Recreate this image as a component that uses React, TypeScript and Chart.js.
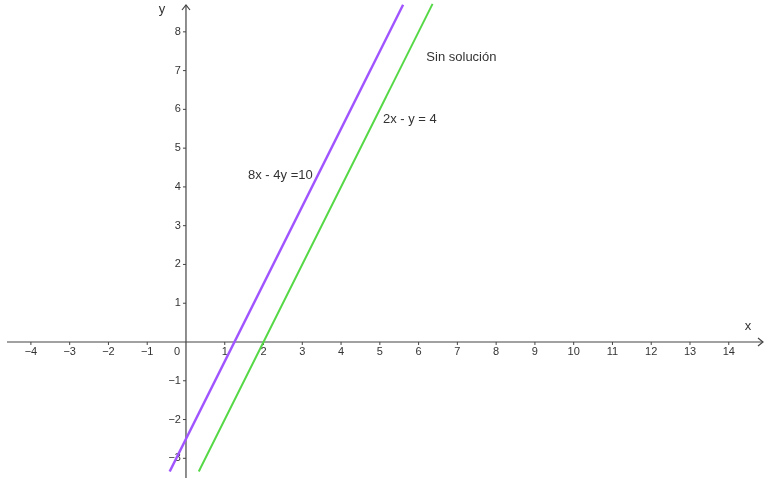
import React, { useEffect, useRef } from "react";
import { Chart, registerables } from "chart.js";

Chart.register(...registerables);

// Line endpoints
const purpleX = [-0.42, 5.6];
const purpleY = [-3.34, 8.7];
const greenX = [0.33, 6.36];
const greenY = [-3.34, 8.72];

const xTicks = [-4, -3, -2, -1, 1, 2, 3, 4, 5, 6, 7, 8, 9, 10, 11, 12, 13, 14];
const yTicks = [-3, -2, -1, 1, 2, 3, 4, 5, 6, 7, 8];

const annotations = [
  { text: "8x - 4y =10", x: 1.6, y: 4.3 },
  { text: "Sin solución", x: 6.2, y: 7.34 },
  { text: "2x - y = 4", x: 5.08, y: 5.75 },
];

const X_MIN = -4.797;
const X_MAX = 15.012;
const Y_MIN = -3.508;
const Y_MAX = 8.821;

const fmt = (v: number) => (v < 0 ? "\u2212" + Math.abs(v) : String(v));

const axesPlugin = {
  id: "geoAxes",
  beforeDatasetsDraw(chart: any) {
    const ctx = chart.ctx;
    const xs = chart.scales.x;
    const ys = chart.scales.y;
    const x0 = xs.getPixelForValue(0);
    const y0 = ys.getPixelForValue(0);
    const left = xs.getPixelForValue(X_MIN) + 7;
    const right = xs.getPixelForValue(X_MAX) - 5;
    const top = ys.getPixelForValue(Y_MAX) + 5;
    const bottom = ys.getPixelForValue(Y_MIN);
    ctx.save();
    ctx.strokeStyle = "#444";
    ctx.lineWidth = 1.2;
    ctx.beginPath();
    ctx.moveTo(left, y0);
    ctx.lineTo(right, y0);
    ctx.moveTo(x0, bottom);
    ctx.lineTo(x0, top);
    ctx.stroke();
    // arrows
    ctx.beginPath();
    ctx.moveTo(right - 5, y0 - 4);
    ctx.lineTo(right, y0);
    ctx.lineTo(right - 5, y0 + 4);
    ctx.moveTo(x0 - 4, top + 5);
    ctx.lineTo(x0, top);
    ctx.lineTo(x0 + 4, top + 5);
    ctx.stroke();
    // ticks
    ctx.lineWidth = 1;
    ctx.beginPath();
    xTicks.forEach((t) => {
      const px = xs.getPixelForValue(t);
      ctx.moveTo(px, y0);
      ctx.lineTo(px, y0 + 3);
    });
    yTicks.forEach((t) => {
      const py = ys.getPixelForValue(t);
      ctx.moveTo(x0 - 3, py);
      ctx.lineTo(x0, py);
    });
    ctx.stroke();
    ctx.fillStyle = "#333";
    ctx.font = "11px 'Liberation Sans', Arial, sans-serif";
    ctx.textAlign = "center";
    ctx.textBaseline = "middle";
    xTicks.forEach((t) => {
      ctx.fillText(fmt(t), xs.getPixelForValue(t), y0 + 10);
    });
    ctx.fillText("0", x0 - 9, y0 + 10);
    ctx.textAlign = "right";
    yTicks.forEach((t) => {
      ctx.fillText(fmt(t), x0 - 5, ys.getPixelForValue(t));
    });
    // axis names
    ctx.font = "13px 'Liberation Sans', Arial, sans-serif";
    ctx.textAlign = "center";
    ctx.fillText("x", right - 15, y0 - 16);
    ctx.fillText("y", x0 - 24, top + 4);
    // annotations
    ctx.textAlign = "left";
    annotations.forEach((a) => {
      ctx.fillText(a.text, xs.getPixelForValue(a.x), ys.getPixelForValue(a.y));
    });
    ctx.restore();
  },
};

export default function App() {
  const ref = useRef<HTMLCanvasElement>(null);
  useEffect(() => {
    if (!ref.current) return;
    const chart = new Chart(ref.current, {
      type: "scatter",
      data: {
        datasets: [
          {
            label: "8x - 4y = 10",
            data: purpleX.map((x, i) => ({ x, y: purpleY[i] })),
            showLine: true,
            borderColor: "#a055ff",
            borderWidth: 2.5,
            pointRadius: 0,
          },
          {
            label: "2x - y = 4",
            data: greenX.map((x, i) => ({ x, y: greenY[i] })),
            showLine: true,
            borderColor: "#55d845",
            borderWidth: 2,
            pointRadius: 0,
          },
        ],
      },
      options: {
        animation: false,
        responsive: false,
        maintainAspectRatio: false,
        layout: { padding: 0 },
        plugins: { legend: { display: false }, tooltip: { enabled: false } },
        scales: {
          x: { type: "linear", min: X_MIN, max: X_MAX, display: false },
          y: { type: "linear", min: Y_MIN, max: Y_MAX, display: false },
        },
      },
      plugins: [axesPlugin],
    });
    return () => chart.destroy();
  }, []);
  return (
    <div style={{ position: "fixed", left: 0, top: 0, width: 768, height: 478, background: "#fff" }}>
      <canvas ref={ref} width={768} height={478} style={{ width: 768, height: 478 }} />
    </div>
  );
}
